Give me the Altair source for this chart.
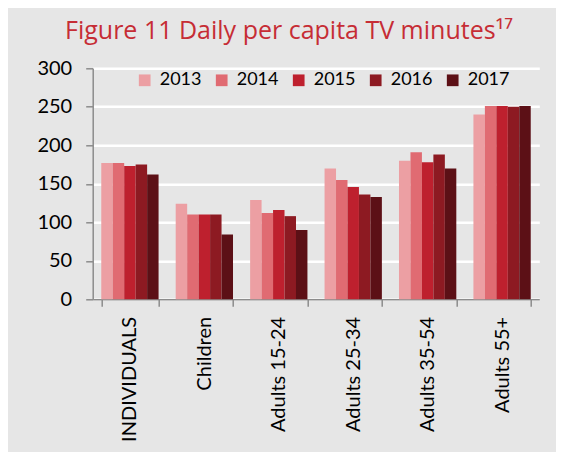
import altair as alt
import pandas as pd

groups = ["INDIVIDUALS", "Children", "Adults 15-24", "Adults 25-34", "Adults 35-54", "Adults 55+"]
years = ["2013", "2014", "2015", "2016", "2017"]
v2013 = [177, 124, 129, 170, 180, 240]
v2014 = [177, 110, 112, 155, 191, 251]
v2015 = [173, 110, 116, 146, 178, 251]
v2016 = [175, 110, 108, 136, 188, 250]
v2017 = [162, 84, 90, 133, 170, 251]
colors = ["#EC9FA3", "#E06B72", "#BE202E", "#8D1A22", "#5C1016"]

series = [v2013, v2014, v2015, v2016, v2017]
rows = []
for y, vals in zip(years, series):
    for g, v in zip(groups, vals):
        rows.append({"group": g, "year": y, "value": v})
df = pd.DataFrame(rows)

FONT = "Lato"

chart = alt.Chart(df).mark_bar().encode(
    x=alt.X("group:N", sort=groups, title=None,
            scale=alt.Scale(paddingInner=0.23, paddingOuter=0.115),
            axis=alt.Axis(labelAngle=270, labelAlign="right", labelBaseline="middle",
                          labelFont=FONT, labelFontSize=20, labelColor="#000000",
                          labelPadding=10, tickSize=7, tickBand="extent",
                          tickColor="#8c8c8c", tickWidth=1.5,
                          domainColor="#8c8c8c", domainWidth=1.5, grid=False)),
    xOffset=alt.XOffset("year:N", sort=years, scale=alt.Scale(paddingInner=0, paddingOuter=0)),
    y=alt.Y("value:Q", title=None,
            scale=alt.Scale(domain=[0, 300], nice=False),
            axis=alt.Axis(values=[0, 50, 100, 150, 200, 250, 300],
                          labelFont=FONT, labelFontSize=20, labelColor="#000000",
                          labelPadding=14, tickSize=7, tickColor="#8c8c8c", tickWidth=1.5,
                          domainColor="#8c8c8c", domainWidth=1.5,
                          grid=True, gridColor="#ffffff", gridWidth=2.5)),
    color=alt.Color("year:N", sort=years,
                    scale=alt.Scale(domain=years, range=colors),
                    legend=alt.Legend(orient="none", legendX=43, legendY=3,
                                      direction="horizontal", title=None,
                                      symbolType="square", symbolSize=137,
                                      symbolStrokeWidth=0, symbolOpacity=1,
                                      labelFont=FONT, labelFontSize=18, labelColor="#000000",
                                      labelOffset=6, columnPadding=11, padding=0)),
).properties(
    width=446.6,
    height=231,
    title=alt.TitleParams("Figure 11 Daily per capita TV minutes\u00b9\u2077",
                          font="Open Sans", fontSize=25, fontWeight="normal", color="#C62D35",
                          anchor="middle", frame="group", dx=-27, offset=-6,
                          baseline="alphabetic"),
    autosize=alt.AutoSizeParams(type="none"),
    padding={"left": 84.7, "top": 60.3, "right": 16.7, "bottom": 152.7},
    background="#E6E6E6",
).configure_view(stroke=None, fill="#E6E6E6")

chart.save("out.html", embed_options={"renderer": "svg", "actions": False})
